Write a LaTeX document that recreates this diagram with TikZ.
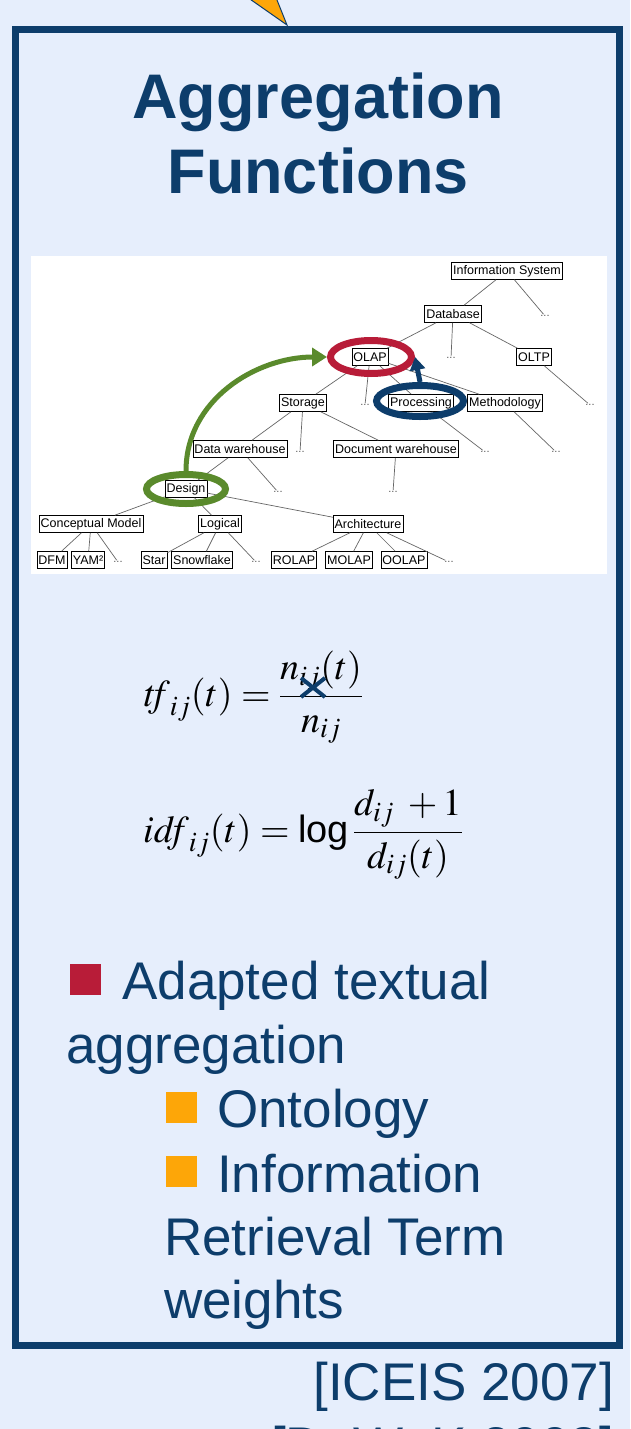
\documentclass[tikz,border=0pt]{standalone}
\usepackage{amsmath}
\usepackage{mathptmx}
\usepackage[no-math]{fontspec}
\setmainfont{Liberation Sans}
\usepackage{xcolor}
\usetikzlibrary{arrows.meta,positioning,shapes.geometric}

\definecolor{paleblue}{RGB}{230,238,252}
\definecolor{navy}{RGB}{13,61,107}
\definecolor{crimson}{RGB}{184,28,56}
\definecolor{olive}{RGB}{90,138,44}
\definecolor{amber}{RGB}{253,166,8}

\begin{document}
\begin{tikzpicture}[
    x=1pt, y=-1pt,
    concept/.style  = {draw=black, fill=white, line width=0.6pt, inner xsep=1.5pt,
                       inner ysep=0pt, minimum height=17pt,
                       font=\fontsize{12.5}{13}\selectfont},
    etc/.style      = {inner sep=1pt, font=\fontsize{11}{12}\selectfont, text=black!65},
    branch/.style   = {draw=black!60, line width=0.7pt},
    ring/.style     = {draw=#1, ellipse, line width=7pt, inner sep=0pt},
    jump/.style     = {-{Triangle[length=15pt,width=18pt]}, line width=5pt},
    headline/.style = {font=\fontsize{63}{75}\selectfont\bfseries, text=navy, inner sep=0pt},
    formula/.style  = {font=\fontsize{38}{42}\selectfont, inner sep=0pt},
    bodytext/.style = {font=\fontsize{53}{64}\selectfont, text=navy, inner sep=0pt},
    bullet/.style   = {fill=#1, minimum size=31pt, inner sep=0pt},
]
\useasboundingbox (0,0) rectangle (630,1429);
\clip (0,0) rectangle (630,1429);
\fill[paleblue] (0,0) rectangle (630,1429);

% ---------------- Callout pointer and frame ----------------
\filldraw[fill=amber, draw=navy, line width=1pt] (237,-10) -- (287,25) -- (273,-10) -- cycle;
\draw[navy, line width=7pt] (15.5,29.5) rectangle (619.5,1345.5);

\node[headline, anchor=base] (head1) at (318,118) {Aggregation};
\node[headline, anchor=base] (head2) at (318,193) {Functions};

% ---------------- Concept tree ----------------
\fill[white] (31,256) rectangle (607,574);

\node[concept] (info)    at (507,271) {Information System};
\node[etc]     (infodots) at (545,316) {...};
\node[concept] (db)      at (453,314) {Database};
\node[concept] (olap)    at (370,357) {OLAP};
\node[etc]     (dbdots)  at (451,358) {...};
\node[concept] (oltp)    at (534,357) {OLTP};
\node[etc]     (oltpdots) at (590,405) {...};
\node[concept] (storage) at (303,403) {Storage};
\node[etc]     (olapdots) at (365,405) {...};
\node[concept] (proc)    at (421,403) {Processing};
\node[concept] (meth)    at (505,403) {Methodology};
\node[concept] (dw)      at (240,449) {Data warehouse};
\node[etc]     (storedots) at (300,452) {...};
\node[concept] (docw)    at (396,449) {Document warehouse};
\node[etc]     (procdots) at (485,452) {...};
\node[etc]     (methdots) at (556,452) {...};
\node[concept] (design)  at (186,489) {Design};
\node[etc]     (dwdots)  at (278,492) {...};
\node[etc]     (docwdots) at (393,492) {...};
\node[concept] (cm)      at (91,524)  {Conceptual Model};
\node[concept] (logical) at (220,524) {Logical};
\node[concept] (arch)    at (368,524) {Architecture};
\node[concept] (dfm)     at (52,560)  {DFM};
\node[concept] (yam)     at (88,560)  {YAM²};
\node[etc]     (cmdots)  at (118,562) {...};
\node[concept] (star)    at (154,560) {Star};
\node[concept] (snow)    at (202,560) {Snowflake};
\node[etc]     (logdots) at (256,562) {...};
\node[concept] (rolap)   at (294,560) {ROLAP};
\node[concept] (molap)   at (349,560) {MOLAP};
\node[concept] (oolap)   at (404,560) {OOLAP};
\node[etc]     (archdots) at (449,562) {...};

\draw[branch] (info) -- (db) (info) -- (infodots);
\draw[branch] (db) -- (olap) (db) -- (dbdots) (db) -- (oltp);
\draw[branch] (oltp) -- (oltpdots);
\draw[branch] (olap) -- (storage) (olap) -- (olapdots) (olap) -- (proc) (olap) -- (meth);
\draw[branch] (storage) -- (dw) (storage) -- (storedots) (storage) -- (docw);
\draw[branch] (proc) -- (procdots);
\draw[branch] (meth) -- (methdots);
\draw[branch] (dw) -- (design) (dw) -- (dwdots);
\draw[branch] (docw) -- (docwdots);
\draw[branch] (design) -- (cm) (design) -- (logical) (design) -- (arch);
\draw[branch] (cm) -- (dfm) (cm) -- (yam) (cm) -- (cmdots);
\draw[branch] (logical) -- (star) (logical) -- (snow) (logical) -- (logdots);
\draw[branch] (arch) -- (rolap) (arch) -- (molap) (arch) -- (oolap) (arch) -- (archdots);

% ---------------- Highlights ----------------
\node[ring=crimson, minimum width=81pt, minimum height=33pt] (olapring)   at (371,357) {};
\node[ring=navy,    minimum width=87pt, minimum height=31pt] (procring)   at (420,401) {};
\node[ring=olive,   minimum width=79pt, minimum height=29pt] (designring) at (186,489) {};

\draw[jump, olive] (designring.north) to[out=90, in=180] (olapring.west);
\draw[jump, navy, -{Triangle[length=13pt,width=15pt]}] (procring.north) -- (olapring.east);

% ---------------- Term weights ----------------
\node[formula, anchor=base west] (tf)  at (143,706) {$\mathit{tf}_{ij}(t)=\dfrac{n_{ij}(t)}{n_{ij}}$};
\node[formula, anchor=base west] (idf) at (143,842) {$\mathit{idf}_{ij}(t)=\mbox{log}\,\dfrac{d_{ij}\;+1}{d_{ij}(t)}$};
\draw[navy, line width=4pt] (301,678) -- (325,697) (301,697) -- (325,678);

% ---------------- Bullets ----------------
\node[bullet=crimson] (b1) at (85.5,979) {};
\node[bodytext, anchor=base west] (l1) at (122,999)  {Adapted textual};
\node[bodytext, anchor=base west] (l2) at (66,1063)  {aggregation};
\node[bullet=amber] (b2) at (181.5,1107.5) {};
\node[bodytext, anchor=base west] (l3) at (217,1127) {Ontology};
\node[bullet=amber] (b3) at (181.5,1171.5) {};
\node[bodytext, anchor=base west] (l4) at (217,1192) {Information};
\node[bodytext, anchor=base west] (l5) at (164,1255) {Retrieval Term};
\node[bodytext, anchor=base west] (l6) at (164,1318) {weights};

\node[bodytext, anchor=base east] (cite1) at (614,1400) {[ICEIS 2007]};
\node[bodytext, anchor=base east] (cite2) at (614,1464) {[DaWaK 2008]};

\end{tikzpicture}
\end{document}
